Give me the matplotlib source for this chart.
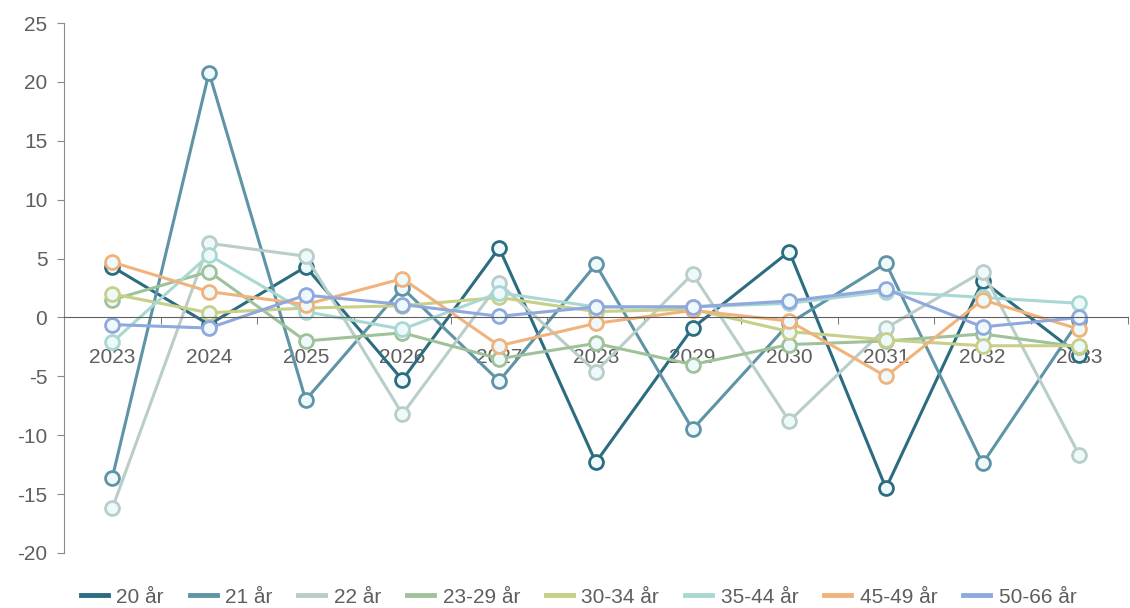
import matplotlib
matplotlib.use('Agg')
import matplotlib.pyplot as plt
from matplotlib.ticker import FixedLocator, NullFormatter

plt.rcParams['font.family'] = ['Liberation Sans', 'DejaVu Sans']
plt.rcParams['axes.unicode_minus'] = False

years = ['2023', '2024', '2025', '2026', '2027', '2028', '2029', '2030', '2031', '2032', '2033']
series_names = ['20 år', '21 år', '22 år', '23-29 år', '30-34 år', '35-44 år', '45-49 år', '50-66 år']

v20 = [4.3, -0.6, 4.3, -5.3, 5.9, -12.3, -0.9, 5.6, -14.5, 3.1, -3.2]
v21 = [-13.6, 20.8, -7.0, 2.5, -5.4, 4.5, -9.5, -0.5, 4.6, -12.4, -0.2]
v22 = [-16.2, 6.3, 5.2, -8.2, 2.9, -4.6, 3.7, -8.8, -0.9, 3.9, -11.7]
v23_29 = [1.5, 3.9, -2.0, -1.3, -3.5, -2.2, -4.0, -2.3, -2.0, -1.4, -2.5]
v30_34 = [2.0, 0.4, 0.8, 1.0, 1.7, 0.5, 0.7, -1.2, -1.9, -2.4, -2.4]
v35_44 = [-2.1, 5.3, 0.5, -1.0, 2.1, 0.9, 0.9, 1.2, 2.2, 1.7, 1.2]
v45_49 = [4.7, 2.2, 1.1, 3.3, -2.4, -0.5, 0.6, -0.3, -5.0, 1.5, -1.0]
v50_66 = [-0.6, -0.9, 1.9, 1.1, 0.1, 0.9, 0.9, 1.4, 2.4, -0.8, 0.0]

values = [v20, v21, v22, v23_29, v30_34, v35_44, v45_49, v50_66]
colors = ['#2b6c80', '#5e94a6', '#b9cdc9', '#9fc29a', '#c7cf88', '#a9d8d2', '#f1b37c', '#8fa8de']

fig = plt.figure(figsize=(11.3, 6.08), dpi=100)
ax = fig.add_axes([0.0566, 0.0905, 0.9414, 0.8715])

x = list(range(len(years)))
for name, vals, col in zip(series_names, values, colors):
    ax.plot(x, vals, color=col, lw=2.2, marker='o', markersize=10,
            markerfacecolor='#eef9fc', markeredgecolor=col, markeredgewidth=2.0,
            label=name, solid_joinstyle='round')

ax.set_xlim(-0.5, len(years) - 0.5)
ax.set_ylim(-20, 25)
ax.set_yticks(range(-20, 26, 5))

grey = '#5f5f5f'
for s in ['top', 'right']:
    ax.spines[s].set_visible(False)
ax.spines['bottom'].set_position(('data', 0))
ax.spines['bottom'].set_color(grey)
ax.spines['left'].set_color('#8a8a8a')

ax.set_xticks(x)
ax.set_xticklabels(years)
ax.xaxis.set_minor_locator(FixedLocator([i + 0.5 for i in range(len(years))]))
ax.xaxis.set_minor_formatter(NullFormatter())
ax.tick_params(axis='x', which='major', length=0, pad=22, labelsize=15, labelcolor=grey)
ax.tick_params(axis='x', which='minor', length=5, color=grey, direction='out')
ax.tick_params(axis='y', length=5, color='#8a8a8a', labelsize=15, labelcolor=grey, pad=7)

leg = fig.legend(loc='center', bbox_to_anchor=(0.512, 0.018), ncol=8, frameon=False,
                 fontsize=15, handlelength=1.3, handletextpad=0.4, columnspacing=1.25)
for h in leg.get_lines():
    h.set_marker('')
    h.set_linewidth(3.5)
for t in leg.get_texts():
    t.set_color(grey)

fig.savefig('out.png', dpi=100)
